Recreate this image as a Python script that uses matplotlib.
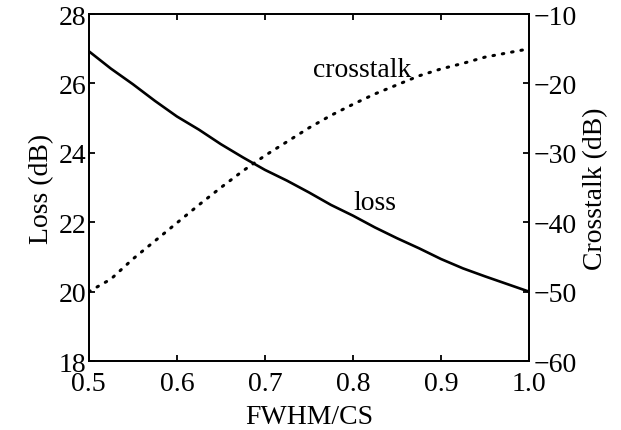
import matplotlib
matplotlib.use("Agg")
import matplotlib.pyplot as plt

plt.rcParams['font.family'] = ['Liberation Serif', 'DejaVu Serif']
plt.rcParams['font.size'] = 20

fwhm = [0.5, 0.525, 0.55, 0.575, 0.6, 0.625, 0.65, 0.675, 0.7, 0.725, 0.75,
        0.775, 0.8, 0.825, 0.85, 0.875, 0.9, 0.925, 0.95, 0.975, 1.0]
loss = [26.93, 26.43, 25.98, 25.50, 25.05, 24.67, 24.25, 23.87, 23.51, 23.20, 22.86,
        22.50, 22.19, 21.85, 21.54, 21.25, 20.94, 20.67, 20.44, 20.22, 20.0]
crosstalk = [-50.0, -48.2, -45.3, -42.7, -40.1, -37.5, -35.0, -32.6, -30.4, -28.4, -26.4,
             -24.6, -23.0, -21.5, -20.2, -18.9, -17.9, -17.1, -16.2, -15.6, -15.0]

fig = plt.figure(figsize=(6.21, 4.31), dpi=100)
ax = fig.add_axes([0.143, 0.160, 0.709, 0.805])
ax2 = ax.twinx()

ax.plot(fwhm, loss, color='black', lw=1.9)
ax2.plot(fwhm, crosstalk, color='black', lw=2.2, linestyle=(0, (0.5, 2.6)),
         dash_capstyle='round')

ax.set_xlim(0.5, 1.0)
ax.set_ylim(18, 28)
ax2.set_ylim(-60, -10)
ax.set_xticks([0.5, 0.6, 0.7, 0.8, 0.9, 1.0])
ax.set_xticklabels(['0.5', '0.6', '0.7', '0.8', '0.9', '1.0'])
ax.set_yticks([18, 20, 22, 24, 26, 28])
ax2.set_yticks([-60, -50, -40, -30, -20, -10])

ax.set_xlabel('FWHM/CS', labelpad=6)
ax.set_ylabel('Loss (dB)', labelpad=3)
ax2.set_ylabel('Crosstalk (dB)', labelpad=5)

ax.tick_params(direction='in', length=4, width=1.3, top=True, pad=2)
ax.tick_params(axis='x', pad=7)
ax2.tick_params(direction='in', length=4, width=1.3, pad=3)
for a in (ax, ax2):
    for s in a.spines.values():
        s.set_linewidth(1.3)

ax.text(0.755, 26.4, 'crosstalk', va='center', ha='left')
ax.text(0.80, 22.58, 'loss', va='center', ha='left')

fig.savefig('out.png', dpi=100)
